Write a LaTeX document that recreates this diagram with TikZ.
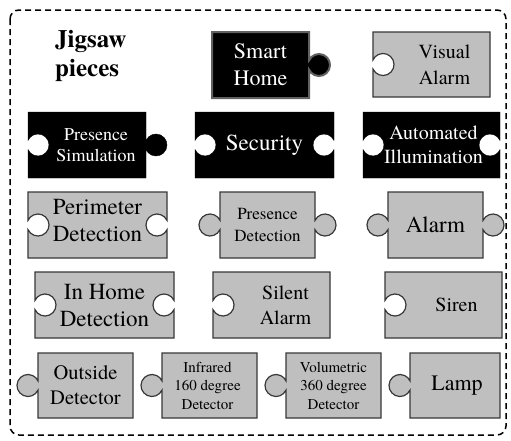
\documentclass[tikz,border=0pt]{standalone}
\usepackage{fontspec}
\setmainfont{texgyretermes}[Extension=.otf,UprightFont=*-regular,BoldFont=*-bold,ItalicFont=*-italic,BoldItalicFont=*-bolditalic]
\definecolor{PieceClr}{rgb}{0.75,0.75,0.75}
\definecolor{EdgeClr}{rgb}{0.22,0.22,0.22}
\definecolor{RimClr}{rgb}{0.38,0.38,0.38}

\newcommand\notchL[2]{-- (#1,{#2+4.58}) arc[start angle=155.38,end angle=-155.38,radius=11]}
\newcommand\knobL[2]{-- (#1,{#2+4.58}) arc[start angle=24.62,end angle=335.38,radius=11]}
\newcommand\flatL[2]{}
\newcommand\notchR[2]{-- (#1,{#2-4.58}) arc[start angle=-24.62,end angle=-335.38,radius=11]}
\newcommand\knobR[2]{-- (#1,{#2-4.58}) arc[start angle=-155.38,end angle=155.38,radius=11]}
\newcommand\flatR[2]{}

\newcommand\jigpiece[8]{%
\draw[#8 piece] (#2,#3) -- (#4,#3) #7{#4}{(#3+#5)/2} -- (#4,#5) -- (#2,#5) #6{#2}{(#3+#5)/2} -- cycle;
\coordinate (#1) at ({(#2+#4)/2},{(#3+#5)/2});
}

\begin{document}
\begin{tikzpicture}[x=1pt,y=-1pt,
  dark piece/.style={fill=black,draw=black},
  top piece/.style={fill=black,draw=RimClr,line width=2pt},
  light piece/.style={fill=PieceClr,draw=EdgeClr,line width=1.2pt},
  dark label/.style={text=white,align=center,inner sep=0pt},
  light label/.style={text=black,align=center,inner sep=0pt}]
\useasboundingbox (0,0) rectangle (511,440);

\draw[line width=1.5pt,dash pattern=on 6pt off 4pt,rounded corners=9pt] (10,10) rectangle (506,435);

\node[anchor=north west,align=left,inner sep=0pt,font=\bfseries\fontsize{25}{29}\selectfont] (title) at (55,30) {Jigsaw\\pieces};

\jigpiece{smart}{212}{32}{309}{98}{\flatL}{\knobR}{top}
\jigpiece{visual}{373}{32}{490}{97}{\notchL}{\flatR}{light}

\jigpiece{sim}{28}{112}{146}{178}{\notchL}{\knobR}{dark}
\jigpiece{sec}{195}{112}{334}{178}{\notchL}{\notchR}{dark}
\jigpiece{illum}{363}{112}{500}{178}{\notchL}{\notchR}{dark}

\jigpiece{perim}{28}{192}{167}{258}{\notchL}{\notchR}{light}
\jigpiece{pdet}{220}{192}{315}{258}{\knobL}{\knobR}{light}
\jigpiece{alarm}{388}{192}{483}{258}{\knobL}{\knobR}{light}

\jigpiece{inhome}{35}{272}{174}{338}{\notchL}{\notchR}{light}
\jigpiece{silent}{213}{272}{330}{338}{\notchL}{\flatR}{light}
\jigpiece{siren}{385}{272}{502}{338}{\notchL}{\flatR}{light}

\jigpiece{outside}{38}{353}{133}{418}{\knobL}{\flatR}{light}
\jigpiece{infra}{162}{353}{257}{418}{\knobL}{\flatR}{light}
\jigpiece{volu}{286}{353}{381}{418}{\knobL}{\flatR}{light}
\jigpiece{lamp}{410}{353}{500}{418}{\knobL}{\flatR}{light}

\node[dark label,font=\fontsize{22}{27}\selectfont] (smarttext) at (smart) {Smart\\Home};
\node[light label,font=\fontsize{20}{26}\selectfont] (visualtext) at ([xshift=13pt]visual) {Visual\\Alarm};

\node[dark label,font=\fontsize{18}{21.5}\selectfont] (simtext) at ([xshift=9pt]sim) {Presence\\Simulation};
\node[dark label,font=\fontsize{23}{27}\selectfont] (sectext) at (sec) {Security};
\node[dark label,font=\fontsize{20}{24}\selectfont] (illumtext) at ([xshift=2pt]illum) {Automated\\Illumination};

\node[light label,font=\fontsize{23}{27}\selectfont] (perimtext) at ([yshift=5pt]perim) {Perimeter\\Detection};
\node[light label,font=\fontsize{17}{22}\selectfont] (pdettext) at (pdet) {Presence\\Detection};
\node[light label,font=\fontsize{23}{27}\selectfont] (alarmtext) at (alarm) {Alarm};

\node[light label,font=\fontsize{23}{27}\selectfont] (inhometext) at (inhome) {In Home\\Detection};
\node[light label,font=\fontsize{20}{25}\selectfont] (silenttext) at ([xshift=14pt]silent) {Silent\\Alarm};
\node[light label,font=\fontsize{20}{25}\selectfont] (sirentext) at ([xshift=13pt]siren) {Siren};

\node[light label,font=\fontsize{20.5}{25}\selectfont] (outsidetext) at (outside) {Outside\\Detector};
\node[light label,font=\fontsize{15}{18.5}\selectfont] (infratext) at ([xshift=-2pt]infra) {Infrared\\160 degree\\Detector};
\node[light label,font=\fontsize{15}{18.5}\selectfont] (volutext) at (volu) {Volumetric\\360 degree\\Detector};
\node[light label,font=\fontsize{22}{27}\selectfont] (lamptext) at ([xshift=2pt]lamp) {Lamp};

\end{tikzpicture}
\end{document}
